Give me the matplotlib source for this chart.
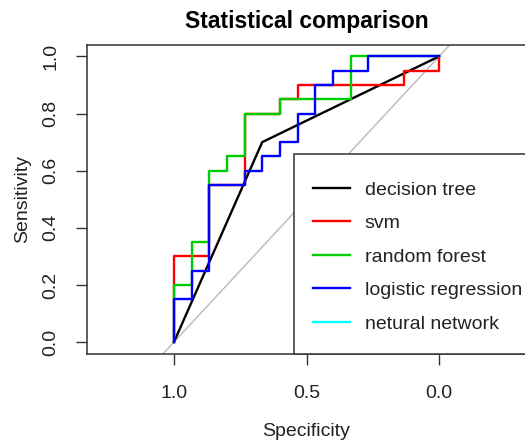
import matplotlib
matplotlib.use('Agg')
import matplotlib.pyplot as plt
from matplotlib.lines import Line2D
from matplotlib.patches import Rectangle

plt.rcParams['font.family'] = ['Liberation Sans', 'DejaVu Sans']

# ROC curves: (specificity, sensitivity) corner points
names = ['decision tree', 'svm', 'random forest', 'logistic regression', 'netural network']
colors = ['black', '#FF0000', '#00CD00', '#0000FF', '#00FFFF']

tree_spec = [1.0, 0.667, 0.0]
tree_sens = [0.0, 0.70, 1.0]

svm_spec = [1.0, 1.0, 0.867, 0.867, 0.733, 0.733, 0.6, 0.6, 0.533, 0.533, 0.133, 0.133, 0.0, 0.0]
svm_sens = [0.0, 0.30, 0.30, 0.55, 0.55, 0.80, 0.80, 0.85, 0.85, 0.90, 0.90, 0.95, 0.95, 1.0]

rf_spec = [1.0, 1.0, 0.933, 0.933, 0.867, 0.867, 0.8, 0.8, 0.733, 0.733, 0.6, 0.6, 0.333, 0.333, 0.0]
rf_sens = [0.0, 0.20, 0.20, 0.35, 0.35, 0.60, 0.60, 0.65, 0.65, 0.80, 0.80, 0.85, 0.85, 1.0, 1.0]

lr_spec = [1.0, 1.0, 0.933, 0.933, 0.867, 0.867, 0.733, 0.733, 0.667, 0.667, 0.6, 0.6,
           0.533, 0.533, 0.467, 0.467, 0.4, 0.4, 0.267, 0.267, 0.0]
lr_sens = [0.0, 0.15, 0.15, 0.25, 0.25, 0.55, 0.55, 0.60, 0.60, 0.65, 0.65, 0.70,
           0.70, 0.80, 0.80, 0.90, 0.90, 0.95, 0.95, 1.0, 1.0]

curves = [(tree_spec, tree_sens), (svm_spec, svm_sens), (rf_spec, rf_sens), (lr_spec, lr_sens)]

xticks = [1.0, 0.5, 0.0]
yticks = [0.0, 0.2, 0.4, 0.6, 0.8, 1.0]

W, H = 525, 444
fig = plt.figure(figsize=(W / 100, H / 100), dpi=100)
ax = fig.add_axes([87 / W, (H - 353.5) / H, 439 / W, 308.5 / H])

# chance diagonal
ax.axline((1, 0), (0, 1), color='#BEBEBE', lw=1.1, zorder=1)

for (sp, se), c in zip(curves, colors):
    ax.plot(sp, se, color=c, lw=1.7, zorder=2)

ax.set_xlim(1.328, -0.328)
ax.set_ylim(-0.04, 1.04)
ax.set_xticks(xticks)
ax.set_xticklabels(['1.0', '0.5', '0.0'])
ax.set_yticks(yticks)
ax.set_yticklabels(['0.0', '0.2', '0.4', '0.6', '0.8', '1.0'])
ax.tick_params(length=8, width=1, color='#333333', labelsize=14, labelcolor='#222222', pad=12)
ax.tick_params(axis='x', pad=15)
plt.setp(ax.get_yticklabels(), rotation=90, va='center')
for s in ax.spines.values():
    s.set_color('#333333')
    s.set_linewidth(1.1)

ax.set_xlabel('Specificity', fontsize=14, color='#222222', labelpad=15)
ax.set_ylabel('Sensitivity', fontsize=14, color='#222222', labelpad=8)
ax.set_title('Statistical comparison', fontsize=16.5, fontweight='bold', pad=12)

# legend box (runs off the right side like the original)
x0 = (294 - 87) / 439
y1 = (353.5 - 154) / 308.5
ax.add_patch(Rectangle((x0, 0), 1.2, y1, transform=ax.transAxes, fill=True,
                       facecolor='white', edgecolor='#333333', lw=1.1, zorder=5, clip_on=False))
handles = [Line2D([], [], color=c, lw=1.7) for c in colors]
leg = ax.legend(handles, names, loc='upper left', frameon=False, fontsize=14,
                bbox_to_anchor=((313 - 87) / 439, (353.5 - 181) / 308.5),
                borderaxespad=0, borderpad=0, handlelength=1.9, handletextpad=0.75,
                labelspacing=0.82)
leg.set_zorder(6)
for t in leg.get_texts():
    t.set_color('#222222')

fig.savefig('out.png', dpi=100)
